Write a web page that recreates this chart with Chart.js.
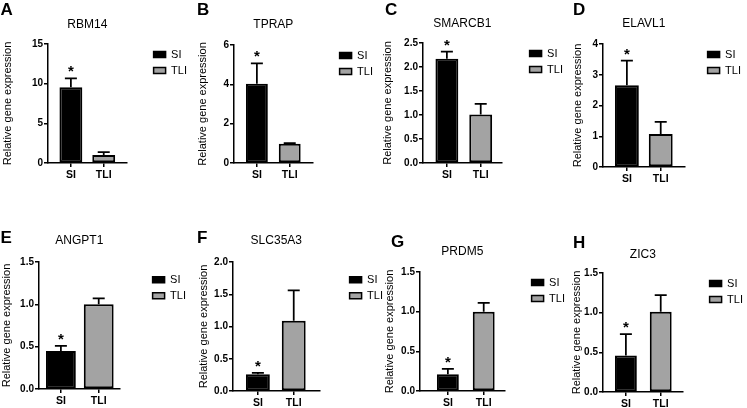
<!DOCTYPE html>
<html>
<head>
<meta charset="utf-8">
<script src="https://cdn.jsdelivr.net/npm/chart.js@4.4.1/dist/chart.umd.min.js"></script>
<style>
  html, body { margin: 0; padding: 0; background: #fff; overflow: hidden; }
  #figure { position: relative; width: 747px; height: 408px; overflow: hidden; }
  #figure canvas { position: absolute; }
</style>
</head>
<body>
<div id="figure"></div>
<script>
// values (mean and upper SD)
const panelLetters = ["A", "B", "C", "D", "E", "F", "G", "H"];
const genes = ["RBM14", "TPRAP", "SMARCB1", "ELAVL1", "ANGPT1", "SLC35A3", "PRDM5", "ZIC3"];
const groups = ["SI", "TLI"];
const siMeans = [9.55, 4.03, 2.17, 2.66, 0.45, 0.26, 0.21, 0.46];
const siErrors = [1.13, 1.04, 0.15, 0.8, 0.06, 0.02, 0.07, 0.27];
const tliMeans = [1.0, 0.98, 1.01, 1.07, 1.0, 1.09, 1.0, 1.01];
const tliErrors = [0.38, 0.03, 0.22, 0.4, 0.07, 0.47, 0.11, 0.21];
const significance = ["*", "*", "*", "*", "*", "*", "*", "*"];
const yMax = [15, 6, 2.5, 4, 1.5, 2, 1.5, 1.5];
const yStep = [5, 2, 0.5, 1, 0.5, 0.5, 0.5, 0.5];
const yDecimals = [0, 0, 1, 0, 1, 1, 1, 1];

// where each panel sits on the page (px)
const layout = [
  { left: 0, top: 0, axisX: 48, axisEnd: 127, siX: 71, tliX: 104, plotTop: 44, plotBottom: 163, titleY: 25, letterX: 0.5, letterY: 15, yTitleX: 8, gap: 22, legendShift: 0, barWidth: 23 },
  { left: 196, top: 0, axisX: 234, axisEnd: 313, siX: 257, tliX: 290, plotTop: 45, plotBottom: 163, titleY: 25, letterX: 197, letterY: 15, yTitleX: 203, gap: 22, legendShift: 0, barWidth: 22 },
  { left: 381, top: 0, axisX: 423, axisEnd: 502, siX: 447, tliX: 481, plotTop: 43, plotBottom: 163, titleY: 24, letterX: 385, letterY: 15, yTitleX: 388, gap: 23, legendShift: 0, barWidth: 23 },
  { left: 571, top: 0, axisX: 603, axisEnd: 685, siX: 627, tliX: 661, plotTop: 44, plotBottom: 167, titleY: 24, letterX: 573, letterY: 15, yTitleX: 578, gap: 18, legendShift: 0, barWidth: 24 },
  { left: 0, top: 200, axisX: 39, axisEnd: 120, siX: 61, tliX: 99, plotTop: 262, plotBottom: 389, titleY: 241, letterX: 0.5, letterY: 243, yTitleX: 7, gap: 28, legendShift: 6, barWidth: 30 },
  { left: 196, top: 200, axisX: 233, axisEnd: 320, siX: 258, tliX: 294, plotTop: 262, plotBottom: 391, titleY: 241, letterX: 197, letterY: 243, yTitleX: 204, gap: 25, legendShift: 6, barWidth: 24 },
  { left: 383, top: 200, axisX: 420, axisEnd: 505, siX: 448, tliX: 484, plotTop: 272, plotBottom: 391, titleY: 252, letterX: 391, letterY: 247, yTitleX: 390, gap: 22, legendShift: 0, barWidth: 22 },
  { left: 570, top: 200, axisX: 603, axisEnd: 683, siX: 626, tliX: 661, plotTop: 273, plotBottom: 392, titleY: 255, letterX: 573, letterY: 248, yTitleX: 577, gap: 22, legendShift: 0, barWidth: 22 },
];

const FONT = "'Liberation Sans', Arial, Helvetica, sans-serif";
Chart.defaults.font.family = FONT;
Chart.defaults.color = "#000";

const X_AXIS_H = 20;
const LEGEND_FONT = 11;

// upward SD whiskers + significance mark
const errorBars = {
  id: "errorBars",
  afterDatasetsDraw(chart) {
    const ctx = chart.ctx;
    const y = chart.scales.y;
    chart.data.datasets.forEach((ds, i) => {
      const meta = chart.getDatasetMeta(i);
      meta.data.forEach((bar, j) => {
        const top = y.getPixelForValue(ds.data[j].y + ds.errors[j]);
        ctx.save();
        ctx.strokeStyle = "#000";
        ctx.lineWidth = 1.75;
        ctx.beginPath();
        ctx.moveTo(bar.x, bar.y);
        ctx.lineTo(bar.x, top);
        ctx.moveTo(bar.x - 6, top);
        ctx.lineTo(bar.x + 6, top);
        ctx.stroke();
        if (ds.marks && ds.marks[j]) {
          ctx.fillStyle = "#000";
          ctx.font = "bold 15px " + FONT;
          ctx.textAlign = "center";
          ctx.textBaseline = "alphabetic";
          ctx.fillText(ds.marks[j], bar.x, top - 2);
        }
        ctx.restore();
      });
    });
  },
};

const panelLetter = {
  id: "panelLetter",
  afterDraw(chart, args, opts) {
    const ctx = chart.ctx;
    ctx.save();
    ctx.fillStyle = "#000";
    ctx.font = "bold 17px " + FONT;
    ctx.textAlign = "left";
    ctx.textBaseline = "alphabetic";
    ctx.fillText(opts.text, opts.x, opts.y);
    ctx.restore();
  },
};

function buildConfig(p) {
  const L = layout[p];
  const spacing = L.tliX - L.siX;
  const xMin = -(L.siX - L.axisX) / spacing;
  const xMax = 1 + (L.axisEnd - L.tliX) / spacing;
  const barPct = L.barWidth / spacing;

  return {
    type: "bar",
    data: {
      datasets: [
        {
          label: groups[0],
          data: [{ x: 0, y: siMeans[p] }],
          errors: [siErrors[p]],
          marks: [significance[p]],
          backgroundColor: "#000",
          borderColor: "#000",
          borderWidth: 2,
          borderSkipped: false,
          categoryPercentage: 1,
          barPercentage: barPct,
          grouped: false,
          xAxisID: "x",
          yAxisID: "y",
        },
        {
          label: groups[1],
          data: [{ x: 1, y: tliMeans[p] }],
          errors: [tliErrors[p]],
          marks: [""],
          backgroundColor: "#a3a3a3",
          borderColor: "#000",
          borderWidth: 2,
          borderSkipped: false,
          categoryPercentage: 1,
          barPercentage: barPct,
          grouped: false,
          xAxisID: "x",
          yAxisID: "y",
        },
      ],
    },
    options: {
      responsive: false,
      maintainAspectRatio: false,
      animation: false,
      events: [],
      layout: { padding: 0 },
      plugins: {
        tooltip: { enabled: false },
        title: {
          display: true,
          text: genes[p],
          fullSize: false,
          color: "#000",
          font: { size: 12, weight: "normal" },
          padding: { top: L.titleY - L.top - 7.2, bottom: L.plotTop - L.titleY - 7.2 },
        },
        legend: {
          position: "right",
          align: "start",
          fullSize: false,
          maxWidth: 200,
          title: {
            display: L.legendShift > 0,
            text: "",
            font: { size: 1 },
            padding: { top: L.legendShift, bottom: 0 },
          },
          labels: {
            boxWidth: 12,
            boxHeight: 6,
            padding: 5,
            color: "#000",
            font: { size: LEGEND_FONT },
            generateLabels: (chart) =>
              Chart.defaults.plugins.legend.labels
                .generateLabels(chart)
                .map((item) => Object.assign(item, { lineWidth: 1.5 })),
          },
        },
        panelLetter: { text: panelLetters[p], x: L.letterX - L.left, y: L.letterY - L.top },
      },
      scales: {
        x: {
          type: "linear",
          offset: false,
          min: xMin,
          max: xMax,
          afterBuildTicks: (s) => {
            s.ticks = groups.map((g, i) => ({ value: i }));
          },
          ticks: {
            callback: (v) => groups[v],
            padding: 2,
            autoSkip: false,
            maxRotation: 0,
            color: "#000",
            font: { size: 10.5, weight: "bold" },
          },
          grid: { offset: false, drawOnChartArea: false, drawTicks: true, tickLength: 4, color: "#000", lineWidth: 1.5 },
          border: { display: true, color: "#000", width: 1.5 },
          afterFit: (s) => {
            s.height = X_AXIS_H;
          },
        },
        y: {
          type: "linear",
          position: "left",
          min: 0,
          max: yMax[p],
          ticks: {
            stepSize: yStep[p],
            padding: 1,
            color: "#000",
            font: { size: 10, weight: "bold" },
            callback: (v) => v.toFixed(yDecimals[p]),
          },
          grid: { drawOnChartArea: false, drawTicks: true, tickLength: 4, color: "#000", lineWidth: 1.5 },
          border: { display: true, color: "#000", width: 1.5 },
          title: {
            display: true,
            text: "Relative gene expression",
            color: "#000",
            font: { size: 11 },
            padding: { top: Math.max(L.yTitleX - L.left - 6.6, 0), bottom: 0 },
          },
          afterFit: (s) => {
            s.width = L.axisX - L.left;
          },
        },
        gap: {
          type: "linear",
          position: "right",
          display: true,
          grid: { display: false },
          ticks: { display: false },
          border: { display: false },
          afterFit: (s) => {
            s.width = L.gap;
          },
        },
      },
    },
    plugins: [errorBars, panelLetter],
  };
}

const figure = document.getElementById("figure");
const measure = document.createElement("canvas").getContext("2d");
measure.font = LEGEND_FONT + "px " + FONT;
const legendTextW = Math.max(...groups.map((g) => measure.measureText(g).width));

genes.forEach((gene, p) => {
  const L = layout[p];
  const canvas = document.createElement("canvas");
  canvas.style.left = L.left + "px";
  canvas.style.top = L.top + "px";
  figure.appendChild(canvas);

  const legendW = 5 + 12 + LEGEND_FONT / 2 + legendTextW + 10;
  const h = L.plotBottom - L.top + X_AXIS_H;
  let w = Math.round(L.axisEnd - L.left + L.gap + legendW);
  canvas.width = w;
  canvas.height = h;

  let chart = new Chart(canvas, buildConfig(p));
  const dx = L.axisEnd - L.left - chart.chartArea.right;
  if (Math.abs(dx) >= 0.5) {
    chart.destroy();
    w = Math.round(w + dx);
    canvas.width = w;
    canvas.height = h;
    chart = new Chart(canvas, buildConfig(p));
  }
});
</script>
</body>
</html>
